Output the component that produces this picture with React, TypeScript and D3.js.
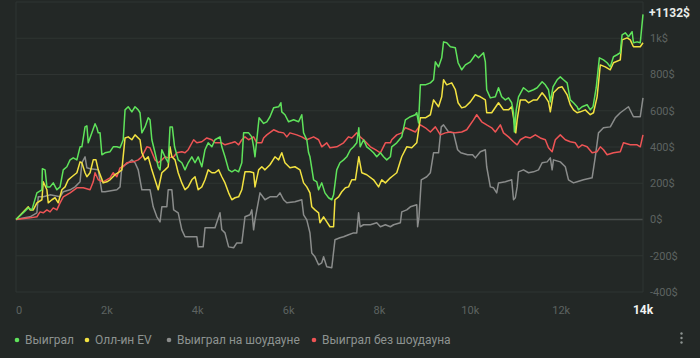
import React from 'react';
import {scaleLinear, line, curveLinear} from 'd3';

// [hands, $]
const won: [number, number][] = [
  [0, 0], [160, 37], [270, 64], [350, 53], [460, 147], [570, 164], [580, 280], [640, 274], [680, 180],
  [750, 180], [820, 202], [900, 164], [970, 180], [1040, 274], [1120, 291], [1190, 329], [1260, 340],
  [1340, 329], [1410, 401], [1450, 401], [1520, 511], [1560, 517], [1590, 423], [1670, 478], [1740, 528],
  [1780, 506], [1810, 478], [1850, 478], [1890, 357], [1960, 368], [2070, 374], [2140, 401], [2220, 401],
  [2290, 396], [2360, 440], [2400, 605], [2470, 622], [2550, 594], [2620, 622], [2690, 605], [2730, 589],
  [2770, 478], [2840, 511], [2910, 561], [2950, 550], [2990, 440], [3060, 368], [3130, 291], [3170, 274],
  [3210, 385], [3280, 346], [3350, 313], [3390, 511], [3440, 511], [3490, 401], [3570, 329], [3650, 313],
  [3720, 274], [3790, 313], [3870, 346], [3940, 313], [4010, 346], [4090, 291], [4160, 385], [4230, 423],
  [4310, 401], [4380, 440], [4490, 456], [4530, 401], [4600, 346], [4680, 274], [4750, 263], [4820, 274],
  [4900, 263], [4970, 313], [5010, 478], [5120, 478], [5190, 456], [5230, 401], [5260, 346], [5300, 440],
  [5350, 561], [5450, 530], [5520, 539], [5590, 567], [5670, 616], [5780, 622], [5830, 644], [5850, 594],
  [5920, 578], [6000, 539], [6110, 550], [6220, 539], [6290, 578], [6330, 478], [6400, 440], [6440, 368],
  [6470, 346], [6550, 219], [6620, 208], [6660, 164], [6730, 202], [6800, 147], [6880, 120], [6950, 109],
  [6990, 136], [7060, 274], [7130, 313], [7210, 329], [7280, 346], [7360, 385], [7430, 401], [7500, 423],
  [7545, 506], [7575, 401], [7650, 440], [7720, 401], [7800, 385], [7870, 368], [7940, 346], [8020, 368],
  [8090, 346], [8160, 329], [8240, 346], [8270, 401], [8380, 423], [8490, 456], [8570, 550], [8680, 567],
  [8790, 578], [8820, 589], [8860, 533], [8900, 743], [9010, 743], [9120, 754], [9190, 771], [9230, 870],
  [9300, 842], [9370, 892], [9410, 980], [9480, 975], [9560, 953], [9670, 947], [9730, 865], [9810, 826],
  [9890, 853], [10000, 870], [10110, 909], [10180, 892], [10290, 920], [10330, 870], [10360, 716],
  [10440, 671], [10550, 677], [10620, 727], [10690, 677], [10770, 660], [10840, 671], [10910, 644],
  [10950, 589], [10970, 483], [11010, 605], [11060, 677], [11170, 727], [11280, 705], [11390, 716],
  [11470, 727], [11580, 760], [11650, 743], [11720, 716], [11760, 649], [11820, 732], [11910, 771],
  [11980, 787], [12050, 771], [12130, 754], [12200, 660], [12270, 644], [12350, 622], [12380, 605],
  [12460, 622], [12570, 633], [12640, 605], [12700, 622], [12770, 727], [12840, 892], [12930, 881],
  [13010, 865], [13080, 842], [13150, 898], [13230, 909], [13300, 920], [13340, 1019], [13410, 1030],
  [13480, 1008], [13560, 1036], [13590, 975], [13670, 980], [13740, 975], [13800, 1132],
];

const allinEV: [number, number][] = [
  [0, 0], [270, 70], [310, 53], [380, 53], [460, 92], [570, 109], [600, 208], [680, 164], [710, 92],
  [790, 109], [860, 120], [930, 92], [1010, 164], [1080, 180], [1150, 219], [1230, 236], [1340, 258],
  [1410, 318], [1450, 313], [1520, 258], [1560, 236], [1630, 258], [1700, 329], [1760, 329], [1810, 274],
  [1920, 202], [2000, 208], [2070, 219], [2180, 247], [2250, 258], [2330, 274], [2400, 450], [2470, 456],
  [2550, 440], [2620, 467], [2730, 440], [2770, 368], [2840, 329], [2910, 346], [2990, 274], [3060, 219],
  [3130, 164], [3210, 258], [3280, 274], [3350, 291], [3390, 401], [3430, 346], [3500, 329], [3570, 258],
  [3650, 202], [3720, 164], [3790, 180], [3870, 219], [3940, 236], [4010, 164], [4090, 180], [4160, 219],
  [4230, 274], [4310, 258], [4380, 258], [4460, 274], [4530, 236], [4600, 202], [4680, 147], [4750, 109],
  [4820, 120], [4900, 125], [4970, 164], [5040, 263], [5150, 263], [5230, 258], [5260, 180], [5340, 274],
  [5410, 291], [5480, 274], [5590, 302], [5700, 346], [5780, 329], [5850, 368], [5920, 313], [6030, 285],
  [6140, 291], [6250, 274], [6330, 202], [6400, 180], [6470, 147], [6510, 70], [6580, 53], [6660, 37],
  [6690, -18], [6770, 15], [6840, -13], [6910, -40], [6990, -40], [7020, 109], [7100, 125], [7170, 153],
  [7250, 175], [7320, 180], [7390, 219], [7470, 219], [7545, 346], [7610, 258], [7720, 247], [7870, 219],
  [7980, 180], [8050, 219], [8130, 202], [8240, 230], [8270, 236], [8380, 258], [8490, 346], [8600, 401],
  [8710, 396], [8820, 423], [8900, 561], [9010, 561], [9120, 578], [9190, 660], [9300, 622], [9370, 677],
  [9410, 771], [9480, 743], [9590, 754], [9670, 716], [9730, 644], [9810, 616], [9890, 622], [10000, 649],
  [10110, 688], [10220, 677], [10330, 660], [10360, 589], [10470, 589], [10620, 644], [10730, 605],
  [10840, 605], [10910, 622], [10970, 533], [11000, 478], [11030, 550], [11100, 660], [11210, 660],
  [11280, 644], [11390, 660], [11470, 660], [11580, 699], [11650, 677], [11720, 649], [11760, 594],
  [11830, 699], [11940, 727], [12020, 732], [12130, 688], [12200, 633], [12270, 605], [12350, 589],
  [12420, 594], [12530, 605], [12640, 578], [12710, 589], [12790, 677], [12860, 853], [12970, 842],
  [13080, 826], [13150, 865], [13300, 881], [13340, 991], [13450, 1002], [13520, 991], [13590, 953],
  [13740, 953], [13800, 975],
];

const wonShowdown: [number, number][] = [
  [0, 0], [160, 9], [310, 15], [460, 37], [490, 125], [600, 125], [750, 136], [970, 125], [1040, 153],
  [1190, 164], [1300, 180], [1410, 208], [1450, 313], [1520, 346], [1560, 285], [1630, 280], [1810, 274],
  [1890, 153], [1960, 153], [2220, 164], [2290, 180], [2330, 291], [2400, 302], [2470, 313], [2550, 329],
  [2620, 313], [2690, 274], [2770, 164], [2950, 164], [3020, 70], [3100, 15], [3170, -13], [3210, 70],
  [3320, 70], [3350, 164], [3430, 164], [3470, 53], [3570, 37], [3650, -57], [3720, -95], [3980, -95],
  [4010, -151], [4120, -151], [4160, -46], [4380, -46], [4490, 37], [4530, -57], [4600, -74], [4680, -151],
  [4790, -156], [4860, -129], [4970, -129], [5040, 15], [5150, 26], [5190, 53], [5230, -57], [5260, -2],
  [5370, 147], [5480, 109], [5590, 125], [5740, 125], [5810, 147], [5890, 109], [5960, 92], [6140, 98],
  [6290, 109], [6330, 26], [6400, -2], [6470, -74], [6510, -185], [6580, -206], [6660, -250], [6730, -239],
  [6770, -206], [6840, -261], [6950, -266], [7020, -112], [7130, -101], [7210, -95], [7320, -84],
  [7430, -74], [7500, -74], [7540, 37], [7575, -40], [7650, -29], [7800, -29], [7940, -18], [8020, -40],
  [8130, -29], [8240, -40], [8310, -29], [8460, -18], [8490, 42], [8600, 53], [8680, 70], [8820, 81],
  [8840, -40], [8870, 15], [8920, 219], [9040, 236], [9120, 258], [9190, 368], [9300, 368], [9360, 511],
  [9410, 522], [9520, 483], [9630, 478], [9720, 385], [9790, 368], [9940, 357], [10050, 357], [10110, 340],
  [10220, 374], [10330, 385], [10360, 291], [10440, 180], [10510, 175], [10580, 147], [10620, 202],
  [10770, 208], [10910, 219], [10950, 109], [10990, 120], [11030, 180], [11060, 263], [11170, 274],
  [11280, 258], [11390, 263], [11500, 274], [11580, 313], [11690, 318], [11760, 340], [11800, 274],
  [11830, 329], [11980, 318], [12090, 291], [12160, 219], [12270, 202], [12350, 208], [12490, 219],
  [12680, 230], [12750, 346], [12820, 478], [12930, 506], [13080, 511], [13190, 561], [13300, 589],
  [13480, 622], [13590, 567], [13740, 567], [13800, 671],
];

const wonNoShowdown: [number, number][] = [
  [0, 0], [310, 9], [460, 15], [530, 42], [600, 37], [680, 53], [750, 42], [820, 64], [900, 53], [970, 92],
  [1040, 125], [1190, 147], [1340, 175], [1480, 175], [1630, 164], [1700, 208], [1740, 258], [1810, 219],
  [1920, 208], [2070, 230], [2140, 258], [2220, 236], [2290, 285], [2360, 291], [2440, 313], [2580, 318],
  [2690, 329], [2770, 346], [2880, 401], [2950, 396], [3060, 329], [3130, 313], [3210, 329], [3280, 346],
  [3350, 340], [3470, 346], [3540, 368], [3650, 374], [3720, 368], [3790, 385], [3910, 440], [3980, 423],
  [4090, 429], [4200, 450], [4310, 440], [4380, 423], [4530, 423], [4600, 412], [4750, 423], [4820, 429],
  [4900, 412], [4970, 440], [5040, 456], [5120, 440], [5230, 456], [5300, 423], [5410, 423], [5450, 450],
  [5520, 467], [5670, 495], [5780, 483], [5890, 478], [5960, 456], [6030, 478], [6180, 467], [6290, 456],
  [6400, 440], [6550, 456], [6660, 440], [6730, 401], [6840, 423], [6910, 396], [7060, 401], [7210, 423],
  [7320, 456], [7390, 450], [7500, 478], [7575, 456], [7650, 440], [7800, 401], [7910, 385], [8020, 368],
  [8130, 423], [8240, 423], [8270, 440], [8380, 467], [8490, 478], [8570, 506], [8680, 495], [8790, 483],
  [8900, 522], [9010, 506], [9120, 483], [9230, 511], [9340, 467], [9450, 478], [9560, 483], [9670, 478],
  [9810, 483], [9920, 495], [10070, 550], [10140, 578], [10250, 539], [10360, 522], [10470, 506],
  [10550, 483], [10660, 522], [10730, 478], [10840, 456], [10950, 429], [11030, 412], [11100, 440],
  [11210, 456], [11320, 450], [11430, 467], [11540, 450], [11650, 440], [11720, 396], [11800, 374],
  [11870, 440], [11980, 467], [12090, 440], [12200, 429], [12310, 423], [12380, 396], [12460, 412],
  [12570, 401], [12680, 368], [12790, 374], [12860, 401], [12930, 385], [13010, 357], [13150, 368],
  [13300, 374], [13370, 423], [13520, 412], [13670, 412], [13740, 401], [13800, 467],
];

const xTicks = [0, 2000, 4000, 6000, 8000, 10000, 12000];
const xTickLabels = ['0', '2k', '4k', '6k', '8k', '10k', '12k'];
const yTicks = [-400, -200, 0, 200, 400, 600, 800, 1000];
const yTickLabels = ['-400$', '-200$', '0$', '200$', '400$', '600$', '800$', '1k$'];
const lastHandsLabel = '14k';
const lastWonLabel = '+1132$';

const series = [
  {name: 'Выиграл', data: won, color: '#5fe35b'},
  {name: 'Олл-ин EV', data: allinEV, color: '#f2e241'},
  {name: 'Выиграл на шоудауне', data: wonShowdown, color: '#8a8c8b'},
  {name: 'Выиграл без шоудауна', data: wonNoShowdown, color: '#ee5455'},
];
const drawOrder = [2, 3, 1, 0];
const legendX = [17, 87, 169, 314];

const W = 700, H = 358;
const left = 16, right = 643, top = 2, bottom = 292;
const font = 'Roboto, "Open Sans", sans-serif';

const App = () => {
  const x = scaleLinear().domain([0, 13800]).range([left, right]);
  const y = scaleLinear().domain([-400, 1200]).range([bottom, top]);
  const path = line<[number, number]>()
    .x(d => x(d[0]))
    .y(d => y(d[1]))
    .curve(curveLinear);

  return (
    <svg width={W} height={H} style={{position: 'absolute', left: 0, top: 0, background: '#232826'}} fontFamily={font}>
      <rect width={W} height={H} fill="#232826" />
      {yTicks.map(t => (
        <line key={t} x1={left} x2={right} y1={y(t)} y2={y(t)}
          stroke={t === 0 ? '#484d4b' : '#2f3432'} strokeWidth={t === 0 ? 1.5 : 1} />
      ))}
      <line x1={left} x2={right} y1={top} y2={top} stroke="#2f3432" />
      <line x1={left} x2={left} y1={top} y2={bottom} stroke="#2f3432" />
      <line x1={right} x2={right} y1={top} y2={bottom} stroke="#2f3432" />

      {drawOrder.map(i => (
        <path key={i} d={path(series[i].data) || ''} fill="none" stroke={series[i].color}
          strokeWidth={1.5} strokeLinejoin="round" />
      ))}

      {yTicks.map((t, i) => (
        <text key={t} x={650} y={y(t)} dy="0.35em" fontSize={11} fill="#5d6361">{yTickLabels[i]}</text>
      ))}
      <text x={649} y={13} dy="0.35em" fontSize={12} fontWeight="bold" fill="#e9ece9">{lastWonLabel}</text>

      {xTicks.map((t, i) => (
        <text key={t} x={x(t)} y={310} dy="0.35em" fontSize={11} fill="#5d6361"
          textAnchor={i === 0 ? 'start' : 'middle'}>{xTickLabels[i]}</text>
      ))}
      <text x={x(13800)} y={310} dy="0.35em" fontSize={12} fontWeight="bold" fill="#f2f4f2"
        textAnchor="middle">{lastHandsLabel}</text>

      {series.map((s, i) => (
        <g key={s.name} transform={`translate(${legendX[i]},340)`}>
          <circle cx={0} cy={0} r={2.3} fill={s.color} />
          <text x={8} y={0} dy="0.35em" fontSize={12} fill="#8d9391">{s.name}</text>
        </g>
      ))}
      {[-4.5, 0, 4.5].map(d => (
        <circle key={d} cx={681.5} cy={338 + d} r={1.2} fill="#8d9391" />
      ))}
    </svg>
  );
};

export default App;
